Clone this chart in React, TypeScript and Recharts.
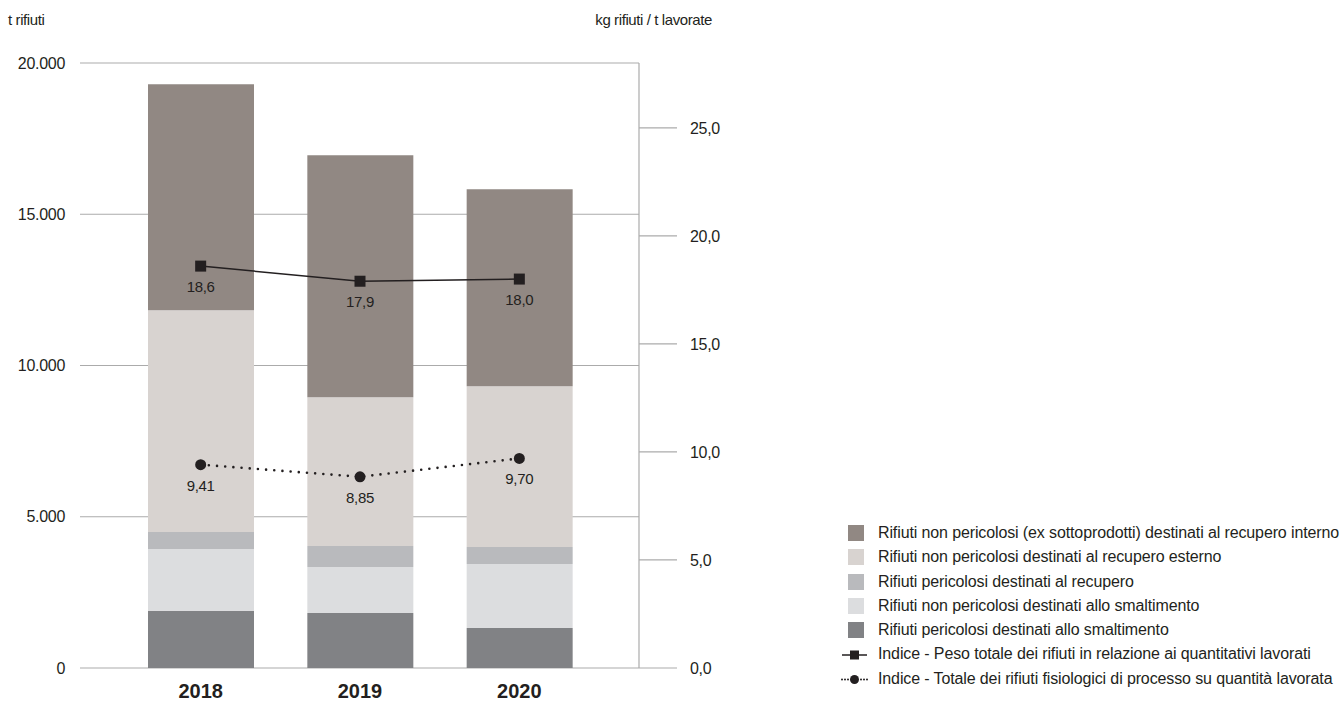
import React from 'react';
import { ComposedChart, Bar, Line, XAxis, YAxis, CartesianGrid, LabelList } from 'recharts';

const years = ['2018', '2019', '2020'];
const pericolosiSmaltimento = [1893, 1817, 1322];
const nonPericolosiSmaltimento = [2039, 1520, 2114];
const pericolosiRecupero = [562, 694, 562];
const nonPericolosiRecuperoEsterno = [7335, 4923, 5320];
const nonPericolosiRecuperoInterno = [7467, 7996, 6509];
const indicePeso = [18.6, 17.9, 18.0];
const indiceFisiologici = [9.41, 8.85, 9.7];

const leftTicks = [0, 5000, 10000, 15000, 20000];
const rightTicks = [0, 5, 10, 15, 20, 25];

const barSeries = [
  { key: 'ps', name: 'Rifiuti pericolosi destinati allo smaltimento', color: '#818285' },
  { key: 'nps', name: 'Rifiuti non pericolosi destinati allo smaltimento', color: '#dcdddf' },
  { key: 'pr', name: 'Rifiuti pericolosi destinati al recupero', color: '#b9babd' },
  { key: 'npre', name: 'Rifiuti non pericolosi destinati al recupero esterno', color: '#d8d3d0' },
  { key: 'npri', name: 'Rifiuti non pericolosi (ex sottoprodotti) destinati al recupero interno', color: '#918883' },
];
const lineNames = [
  'Indice - Peso totale dei rifiuti in relazione ai quantitativi lavorati',
  'Indice - Totale dei rifiuti fisiologici di processo su quantità lavorata',
];

const data = years.map((y, i) => ({
  year: y,
  ps: pericolosiSmaltimento[i],
  nps: nonPericolosiSmaltimento[i],
  pr: pericolosiRecupero[i],
  npre: nonPericolosiRecuperoEsterno[i],
  npri: nonPericolosiRecuperoInterno[i],
  peso: indicePeso[i],
  fisio: indiceFisiologici[i],
}));

const FONT = '"Liberation Sans", Arial, sans-serif';
const INK = '#231f20';
const GRID = '#ababab';

const fmtThousands = (v: number) => v.toLocaleString('de-DE');
const fmt1 = (v: number) => v.toFixed(1).replace('.', ',');
const fmt2 = (v: number) => v.toFixed(2).replace('.', ',');

const SquareDot = (props: any) => {
  const { cx, cy, index } = props;
  if (cx == null || cy == null) return <g key={`sq-${index}`} />;
  return <rect key={`sq-${index}`} x={cx - 5.5} y={cy - 5.5} width={11} height={11} fill={INK} />;
};
const CircleDot = (props: any) => {
  const { cx, cy, index } = props;
  if (cx == null || cy == null) return <g key={`ci-${index}`} />;
  return <circle key={`ci-${index}`} cx={cx} cy={cy} r={5.5} fill={INK} />;
};

const makeLabel = (fmt: (v: number) => string) => (props: any) => {
  const { x, y, value, index } = props;
  return (
    <text key={`lb-${index}`} x={x} y={y + 26} textAnchor="middle" fontSize={15} fontFamily={FONT} fill={INK} letterSpacing={-0.3}>
      {fmt(Number(value))}
    </text>
  );
};

export default function App() {
  const legendRows = [...barSeries].reverse();
  return (
    <div style={{ position: 'fixed', left: 0, top: 0, width: 1342, height: 702, background: '#fff', fontFamily: FONT }}>
      <ComposedChart
        width={1342}
        height={702}
        data={data}
        margin={{ top: 63, right: 603, bottom: 4, left: 0 }}
        barCategoryGap={0}
      >
        <CartesianGrid vertical={false} stroke={GRID} strokeWidth={1.2} yAxisId="left" />
        <XAxis
          dataKey="year"
          padding={{ left: 41, right: 40 }}
          axisLine={false}
          tickLine={false}
          tickSize={0}
          tickMargin={16}
          height={30}
          tick={{ fontSize: 20, fontWeight: 700, fill: INK, fontFamily: FONT }}
        />
        <YAxis
          yAxisId="left"
          width={80}
          domain={[0, 20000]}
          ticks={leftTicks}
          tickFormatter={fmtThousands}
          axisLine={false}
          tickLine={false}
          tickSize={0}
          tickMargin={15}
          tick={{ fontSize: 16, fill: INK, fontFamily: FONT, letterSpacing: -0.3 }}
        />
        <YAxis
          yAxisId="right"
          orientation="right"
          width={100}
          domain={[0, 28]}
          ticks={rightTicks}
          tickFormatter={fmt1}
          axisLine={{ stroke: GRID, strokeWidth: 1.2 }}
          tickLine={{ stroke: GRID, strokeWidth: 1.2 }}
          tickSize={38}
          tickMargin={13}
          tick={{ fontSize: 16, fill: INK, fontFamily: FONT, letterSpacing: -0.3, textAnchor: 'start' }}
        />
        {barSeries.map((s) => (
          <Bar key={s.key} dataKey={s.key} name={s.name} stackId="a" yAxisId="left" fill={s.color} barSize={106} isAnimationActive={false} />
        ))}
        <Line
          yAxisId="right"
          dataKey="peso"
          name={lineNames[0]}
          stroke={INK}
          strokeWidth={1.5}
          dot={SquareDot}
          activeDot={false}
          isAnimationActive={false}
        >
          <LabelList dataKey="peso" content={makeLabel(fmt1)} />
        </Line>
        <Line
          yAxisId="right"
          dataKey="fisio"
          name={lineNames[1]}
          stroke={INK}
          strokeWidth={2.6}
          strokeDasharray="0 8.2"
          strokeLinecap="round"
          dot={CircleDot}
          activeDot={false}
          isAnimationActive={false}
        >
          <LabelList dataKey="fisio" content={makeLabel(fmt2)} />
        </Line>
        <text x={8} y={25} fontSize={15} fontFamily={FONT} fill={INK} letterSpacing={-0.4}>t rifiuti</text>
        <text x={712} y={25} textAnchor="end" fontSize={15} fontFamily={FONT} fill={INK} letterSpacing={-0.4}>kg rifiuti / t lavorate</text>
      </ComposedChart>

      <div style={{ position: 'absolute', left: 840, top: 521, fontSize: 16, color: INK, letterSpacing: -0.12, lineHeight: '24.3px' }}>
        {legendRows.map((s) => (
          <div key={s.key} style={{ display: 'flex', alignItems: 'center', height: 24.3, whiteSpace: 'nowrap' }}>
            <span style={{ display: 'inline-block', width: 16, height: 16, background: s.color, marginLeft: 8, marginRight: 14 }} />
            <span>{s.name}</span>
          </div>
        ))}
        <div style={{ display: 'flex', alignItems: 'center', height: 24.3, whiteSpace: 'nowrap' }}>
          <svg width={38} height={14}>
            <line x1={2} y1={7} x2={27} y2={7} stroke={INK} strokeWidth={1.5} />
            <rect x={10} y={2.5} width={9} height={9} fill={INK} />
          </svg>
          <span>{lineNames[0]}</span>
        </div>
        <div style={{ display: 'flex', alignItems: 'center', height: 24.3, whiteSpace: 'nowrap' }}>
          <svg width={38} height={14}>
            {[2, 5, 8, 21, 24, 27].map((x) => (
              <circle key={x} cx={x} cy={7.5} r={1} fill={INK} />
            ))}
            <circle cx={14.5} cy={7.5} r={4.5} fill={INK} />
          </svg>
          <span>{lineNames[1]}</span>
        </div>
      </div>
    </div>
  );
}
